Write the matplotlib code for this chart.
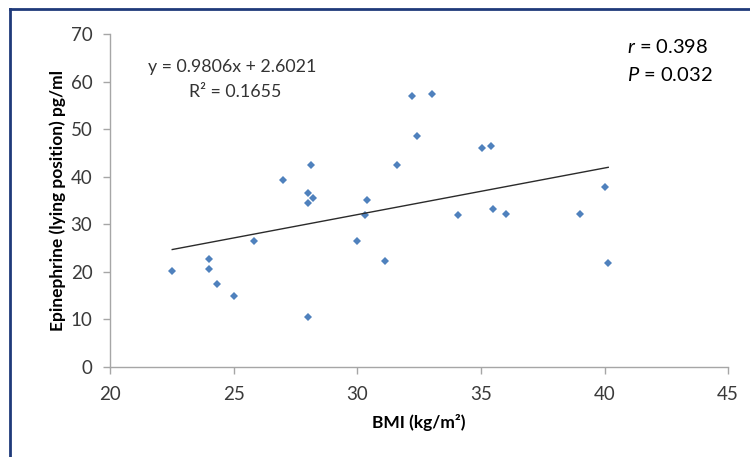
import numpy as np
import matplotlib
matplotlib.use("Agg")
from matplotlib import pyplot as plt
from matplotlib.lines import Line2D

# data
bmi = [22.5, 24.0, 24.0, 24.3, 25.0, 25.8, 27.0, 28.0, 28.0, 28.1,
       28.2, 28.0, 30.0, 30.4, 30.3, 31.1, 31.6, 32.2, 32.4, 33.0,
       34.05, 35.06, 35.4, 35.5, 36.0, 39.0, 40.0, 40.15]
epinephrine = [20.1, 22.7, 20.6, 17.5, 14.9, 26.5, 39.4, 36.5, 34.4, 42.4,
               35.6, 10.4, 26.4, 35.0, 31.9, 22.2, 42.4, 56.9, 48.5, 57.5,
               31.9, 46.0, 46.4, 33.1, 32.1, 32.1, 37.8, 21.8]

slope = 0.9806
intercept = 2.6021
x_ticks = [20, 25, 30, 35, 40, 45]
y_ticks = [0, 10, 20, 30, 40, 50, 60, 70]

plt.rcParams["font.family"] = ["Lato", "DejaVu Sans"]
plt.rcParams["mathtext.fontset"] = "custom"
plt.rcParams["mathtext.rm"] = "Lato"
plt.rcParams["mathtext.it"] = "Lato:italic"


def main():
    fig = plt.figure(figsize=(7.5, 4.57), dpi=100)
    ax = fig.add_axes([0.1473, 0.1976, 0.8234, 0.7276])

    ax.plot(bmi, epinephrine, linestyle="none", marker="D", ms=4.4,
            color="#4F81BD", markeredgewidth=0)

    # linear trendline from the printed equation
    xs = np.array([min(bmi), max(bmi)])
    ax.plot(xs, slope * xs + intercept, color="#2b2b2b", lw=1.0)

    ax.set_xlim(20, 45)
    ax.set_ylim(0, 70)
    ax.set_xticks(x_ticks)
    ax.set_yticks(y_ticks)

    for side in ["top", "right"]:
        ax.spines[side].set_visible(False)
    for side in ["left", "bottom"]:
        ax.spines[side].set_color("#a6a6a6")
        ax.spines[side].set_linewidth(1.0)
    ax.tick_params(colors="#a6a6a6", labelcolor="#3a3a3a", length=5,
                   width=1.0, labelsize=13.5, direction="out")
    ax.tick_params(axis="x", pad=9)
    ax.tick_params(axis="y", pad=8)

    ax.set_xlabel("BMI (kg/m²)", fontsize=12.5, fontweight="bold", labelpad=8)
    ax.set_ylabel("Epinephrine (lying position) pg/ml", fontsize=12.5,
                  fontweight="bold", labelpad=3)

    fig.text(232 / 750, 1 - 67 / 457, "y = 0.9806x + 2.6021", fontsize=12.8,
             ha="center", va="center", color="#333333")
    fig.text(235 / 750, 1 - 92 / 457, "R² = 0.1655", fontsize=12.8,
             ha="center", va="center", color="#333333")
    fig.text(627 / 750, 1 - 47 / 457, r"$r$ = 0.398", fontsize=14.5,
             ha="left", va="center", color="black")
    fig.text(627 / 750, 1 - 75 / 457, r"$P$ = 0.032", fontsize=14.5,
             ha="left", va="center", color="black")

    # navy frame at the top and left edges
    fig.add_artist(Line2D([0.0133, 1.0], [1 - 9 / 457, 1 - 9 / 457],
                          transform=fig.transFigure, color="#1f3a7a", lw=2))
    fig.add_artist(Line2D([0.0133, 0.0133], [0.0, 1 - 9 / 457],
                          transform=fig.transFigure, color="#1f3a7a", lw=2))

    fig.savefig("out.png", dpi=100)


if __name__ == "__main__":
    main()
